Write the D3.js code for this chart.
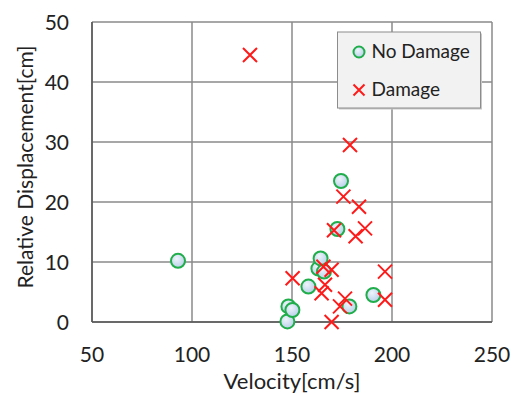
<!DOCTYPE html>
<html>
<head>
<meta charset="utf-8">
<script src="https://cdn.jsdelivr.net/npm/d3@7"></script>
<style>
  body { margin: 0; background: #fff; }
  svg { font-family: Lato, "Open Sans", sans-serif; }
</style>
</head>
<body>
<svg id="chart"></svg>
<script>
// No Damage points: velocity [cm/s], relative displacement [cm]
const noDamageVel  = [93, 147.7, 148.2, 150.2, 158.2, 163.2, 164.3, 166, 172.7, 174.5, 178.7, 190.7];
const noDamageDisp = [10.2, 0.1, 2.6, 2.0, 5.9, 8.9, 10.6, 8.4, 15.5, 23.5, 2.6, 4.5];

// Damage points
const damageVel  = [129, 150.3, 164.8, 165.7, 166.5, 169.8, 169.8, 171, 174, 175.7, 176.5, 179, 181.8, 183.5, 186.5, 196.5, 196.5];
const damageDisp = [44.5, 7.3, 4.8, 9.2, 6.2, 8.7, 0, 15.3, 2.6, 20.9, 3.9, 29.5, 14.3, 19.2, 15.6, 8.4, 3.7];

const xTicks = [50, 100, 150, 200, 250];
const yTicks = [0, 10, 20, 30, 40, 50];

const width = 521, height = 394;
const margin = { top: 22, right: 29, bottom: 72, left: 92 };

const svg = d3.select("#chart")
    .attr("width", width)
    .attr("height", height);

const x = d3.scaleLinear().domain([50, 250]).range([margin.left, width - margin.right]);
const y = d3.scaleLinear().domain([0, 50]).range([height - margin.bottom, margin.top]);

const defs = svg.append("defs");
const grad = defs.append("radialGradient").attr("id", "bub").attr("cx", "40%").attr("cy", "35%").attr("r", "70%");
grad.append("stop").attr("offset", "0%").attr("stop-color", "#eef4fb");
grad.append("stop").attr("offset", "100%").attr("stop-color", "#b5cde8");

// grid
svg.append("g")
    .selectAll("line")
    .data(xTicks)
    .join("line")
    .attr("x1", d => x(d)).attr("x2", d => x(d))
    .attr("y1", y(0)).attr("y2", y(50))
    .attr("stroke", "#8a8a8a").attr("stroke-width", 1.5);

svg.append("g")
    .selectAll("line")
    .data(yTicks)
    .join("line")
    .attr("x1", x(50)).attr("x2", x(250))
    .attr("y1", d => y(d)).attr("y2", d => y(d))
    .attr("stroke", "#8a8a8a").attr("stroke-width", 1.5);

// axis lines
svg.append("line")
    .attr("x1", x(50)).attr("x2", x(50)).attr("y1", y(0)).attr("y2", y(50))
    .attr("stroke", "#555").attr("stroke-width", 1.5);
svg.append("line")
    .attr("x1", x(50)).attr("x2", x(250)).attr("y1", y(0)).attr("y2", y(0))
    .attr("stroke", "#555").attr("stroke-width", 1.5);

// tick labels
svg.append("g")
    .attr("font-size", 21).attr("fill", "#222").attr("text-anchor", "middle")
    .selectAll("text")
    .data(xTicks)
    .join("text")
    .attr("x", d => x(d))
    .attr("y", y(0) + 40)
    .text(d => d);

svg.append("g")
    .attr("font-size", 21).attr("fill", "#222").attr("text-anchor", "end")
    .selectAll("text")
    .data(yTicks)
    .join("text")
    .attr("x", x(50) - 23)
    .attr("y", d => y(d) + 8)
    .text(d => d);

// axis titles
svg.append("text")
    .attr("x", (x(50) + x(250)) / 2)
    .attr("y", 389)
    .attr("text-anchor", "middle")
    .attr("font-size", 22).attr("fill", "#222")
    .text("Velocity[cm/s]");

svg.append("text")
    .attr("transform", `translate(33, ${y(25) - 5}) rotate(-90)`)
    .attr("text-anchor", "middle")
    .attr("font-size", 21).attr("fill", "#222")
    .text("Relative Displacement[cm]");

// markers
const cross = (sel, s) => sel.attr("d", `M${-s},${-s}L${s},${s}M${-s},${s}L${s},${-s}`)
    .attr("stroke", "#ff1a1a").attr("stroke-width", 2).attr("fill", "none");

svg.append("g")
    .selectAll("circle")
    .data(d3.range(noDamageVel.length))
    .join("circle")
    .attr("cx", i => x(noDamageVel[i]))
    .attr("cy", i => y(noDamageDisp[i]))
    .attr("r", 7)
    .attr("fill", "url(#bub)")
    .attr("stroke", "#1fae4a")
    .attr("stroke-width", 2);

svg.append("g")
    .selectAll("path")
    .data(d3.range(damageVel.length))
    .join("path")
    .attr("transform", i => `translate(${x(damageVel[i])},${y(damageDisp[i])})`)
    .call(cross, 7);

// legend
const legend = svg.append("g").attr("transform", "translate(337.5,32)");
legend.append("rect")
    .attr("x", 1.5).attr("y", 1.5).attr("width", 143).attr("height", 76)
    .attr("fill", "#c8c8c8");
legend.append("rect")
    .attr("width", 143).attr("height", 76)
    .attr("fill", "#f2f2f2").attr("stroke", "#8c8c8c").attr("stroke-width", 1);
legend.append("circle")
    .attr("cx", 21.5).attr("cy", 20).attr("r", 5.5)
    .attr("fill", "url(#bub)").attr("stroke", "#1fae4a").attr("stroke-width", 2);
legend.append("path")
    .attr("transform", "translate(21.5,58)")
    .call(cross, 5.5);
legend.append("text")
    .attr("x", 34).attr("y", 26)
    .attr("font-size", 19).attr("fill", "#222")
    .text("No Damage");
legend.append("text")
    .attr("x", 34).attr("y", 64)
    .attr("font-size", 19).attr("fill", "#222")
    .text("Damage");
</script>
</body>
</html>
